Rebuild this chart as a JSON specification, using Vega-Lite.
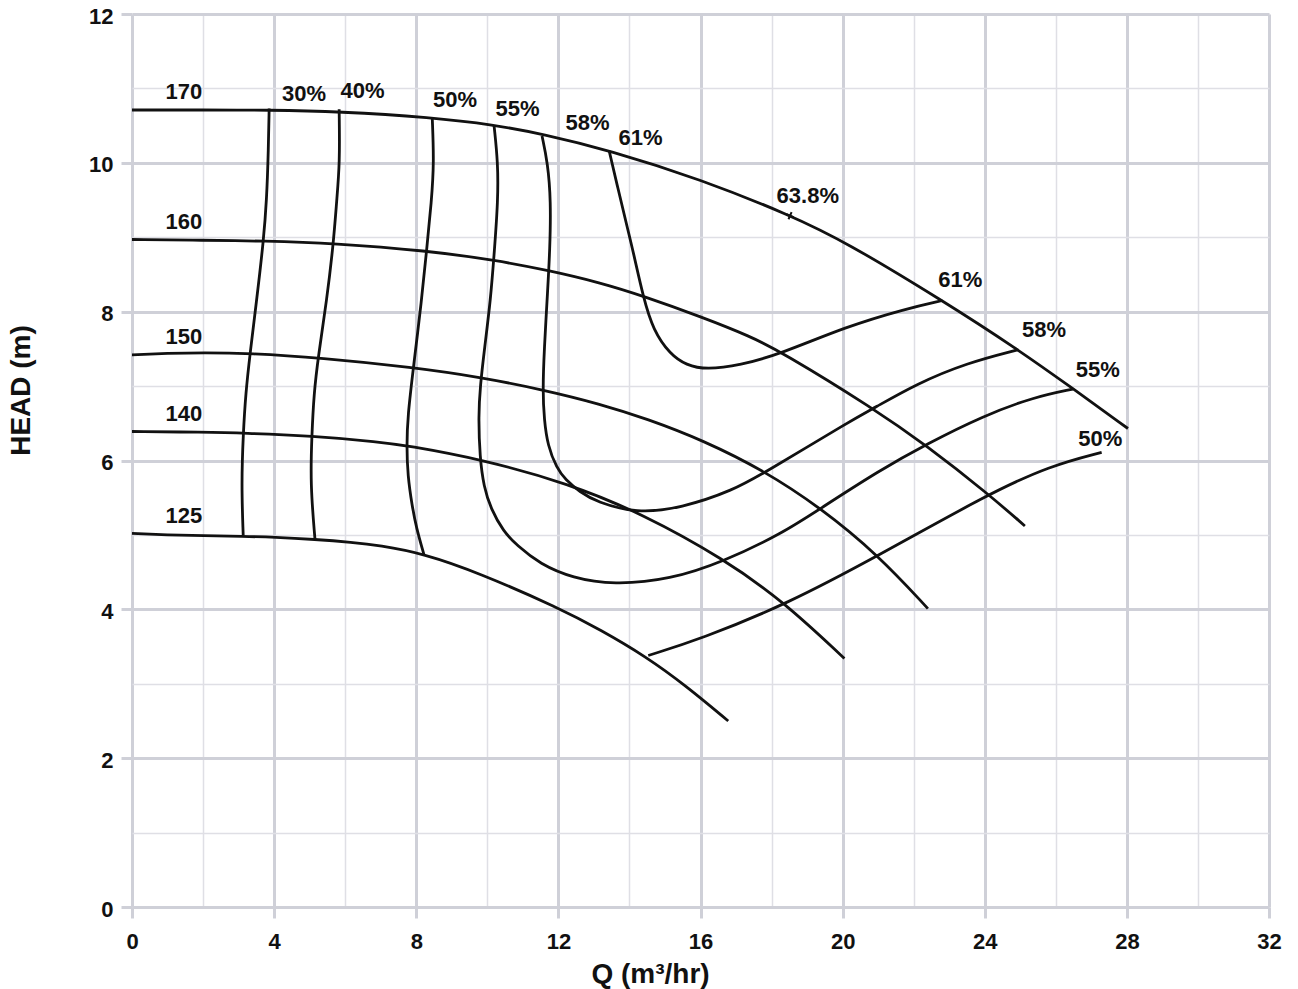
{
  "$schema": "https://vega.github.io/schema/vega-lite/v6.json",
  "width": 1137,
  "height": 893,
  "autosize": "none",
  "padding": {"left": 132, "top": 14, "right": 29, "bottom": 82},
  "background": "white",
  "config": {
    "view": {"stroke": null},
    "axis": {
      "labelFont": "Liberation Sans",
      "labelFontWeight": "bold",
      "labelFontSize": 22,
      "labelColor": "#111111",
      "titleFont": "Liberation Sans",
      "titleFontWeight": "bold",
      "titleFontSize": 28,
      "titleColor": "#111111",
      "labelFlush": false,
      "labelOverlap": false
    }
  },
  "datasets": {
    "curves": [
      {"c": "170", "i": 0, "q": 0, "h": 10.71}, {"c": "170", "i": 1, "q": 2, "h": 10.71}, {"c": "170", "i": 2, "q": 3.84, "h": 10.71}, {"c": "170", "i": 3, "q": 5.83, "h": 10.69}, {"c": "170", "i": 4, "q": 8.42, "h": 10.61}, {"c": "170", "i": 5, "q": 10.19, "h": 10.51}, {"c": "170", "i": 6, "q": 11.54, "h": 10.39}, {"c": "170", "i": 7, "q": 13.43, "h": 10.17}, {"c": "170", "i": 8, "q": 16.0, "h": 9.78}, {"c": "170", "i": 9, "q": 18.56, "h": 9.29}, {"c": "170", "i": 10, "q": 20.07, "h": 8.94}, {"c": "170", "i": 11, "q": 22.81, "h": 8.15}, {"c": "170", "i": 12, "q": 24.91, "h": 7.5}, {"c": "170", "i": 13, "q": 26.47, "h": 6.97}, {"c": "170", "i": 14, "q": 28.03, "h": 6.43},
      {"c": "160", "i": 0, "q": 0, "h": 8.97}, {"c": "160", "i": 1, "q": 2, "h": 8.96}, {"c": "160", "i": 2, "q": 3.7, "h": 8.95}, {"c": "160", "i": 3, "q": 5.67, "h": 8.92}, {"c": "160", "i": 4, "q": 8.29, "h": 8.82}, {"c": "160", "i": 5, "q": 10.26, "h": 8.69}, {"c": "160", "i": 6, "q": 11.76, "h": 8.55}, {"c": "160", "i": 7, "q": 13.17, "h": 8.39}, {"c": "160", "i": 8, "q": 14.39, "h": 8.21}, {"c": "160", "i": 9, "q": 16.08, "h": 7.92}, {"c": "160", "i": 10, "q": 17.39, "h": 7.67}, {"c": "160", "i": 11, "q": 18.24, "h": 7.47}, {"c": "160", "i": 12, "q": 20.87, "h": 6.7}, {"c": "160", "i": 13, "q": 22.36, "h": 6.2}, {"c": "160", "i": 14, "q": 24.1, "h": 5.55}, {"c": "160", "i": 15, "q": 25.13, "h": 5.12},
      {"c": "150", "i": 0, "q": 0, "h": 7.42}, {"c": "150", "i": 1, "q": 1, "h": 7.44}, {"c": "150", "i": 2, "q": 2, "h": 7.45}, {"c": "150", "i": 3, "q": 3.32, "h": 7.44}, {"c": "150", "i": 4, "q": 5.29, "h": 7.38}, {"c": "150", "i": 5, "q": 7.92, "h": 7.25}, {"c": "150", "i": 6, "q": 9.79, "h": 7.12}, {"c": "150", "i": 7, "q": 11.58, "h": 6.95}, {"c": "150", "i": 8, "q": 13.17, "h": 6.76}, {"c": "150", "i": 9, "q": 14.49, "h": 6.56}, {"c": "150", "i": 10, "q": 16.08, "h": 6.27}, {"c": "150", "i": 11, "q": 17.8, "h": 5.86}, {"c": "150", "i": 12, "q": 19.36, "h": 5.37}, {"c": "150", "i": 13, "q": 21.0, "h": 4.73}, {"c": "150", "i": 14, "q": 22.4, "h": 4.01},
      {"c": "140", "i": 0, "q": 0, "h": 6.39}, {"c": "140", "i": 1, "q": 2, "h": 6.38}, {"c": "140", "i": 2, "q": 3.13, "h": 6.37}, {"c": "140", "i": 3, "q": 5.06, "h": 6.33}, {"c": "140", "i": 4, "q": 6.98, "h": 6.25}, {"c": "140", "i": 5, "q": 7.73, "h": 6.2}, {"c": "140", "i": 6, "q": 9.8, "h": 6.02}, {"c": "140", "i": 7, "q": 12.3, "h": 5.69}, {"c": "140", "i": 8, "q": 14.38, "h": 5.28}, {"c": "140", "i": 9, "q": 16.65, "h": 4.68}, {"c": "140", "i": 10, "q": 18.35, "h": 4.1}, {"c": "140", "i": 11, "q": 20.05, "h": 3.34},
      {"c": "125", "i": 0, "q": 0, "h": 5.02}, {"c": "125", "i": 1, "q": 1, "h": 5.0}, {"c": "125", "i": 2, "q": 2, "h": 4.99}, {"c": "125", "i": 3, "q": 3.13, "h": 4.98}, {"c": "125", "i": 4, "q": 4, "h": 4.97}, {"c": "125", "i": 5, "q": 5.15, "h": 4.94}, {"c": "125", "i": 6, "q": 6.2, "h": 4.9}, {"c": "125", "i": 7, "q": 6.95, "h": 4.86}, {"c": "125", "i": 8, "q": 8.2, "h": 4.75}, {"c": "125", "i": 9, "q": 9.76, "h": 4.49}, {"c": "125", "i": 10, "q": 12.01, "h": 4.02}, {"c": "125", "i": 11, "q": 13.2, "h": 3.72}, {"c": "125", "i": 12, "q": 14.45, "h": 3.37}, {"c": "125", "i": 13, "q": 15.6, "h": 2.97}, {"c": "125", "i": 14, "q": 16.78, "h": 2.5},
      {"c": "e30", "i": 0, "q": 3.86, "h": 10.73}, {"c": "e30", "i": 1, "q": 3.84, "h": 10.2}, {"c": "e30", "i": 2, "q": 3.79, "h": 9.49}, {"c": "e30", "i": 3, "q": 3.7, "h": 8.95}, {"c": "e30", "i": 4, "q": 3.52, "h": 8.2}, {"c": "e30", "i": 5, "q": 3.32, "h": 7.43}, {"c": "e30", "i": 6, "q": 3.2, "h": 6.9}, {"c": "e30", "i": 7, "q": 3.13, "h": 6.36}, {"c": "e30", "i": 8, "q": 3.08, "h": 5.69}, {"c": "e30", "i": 9, "q": 3.13, "h": 4.99},
      {"c": "e40", "i": 0, "q": 5.83, "h": 10.72}, {"c": "e40", "i": 1, "q": 5.85, "h": 10.0}, {"c": "e40", "i": 2, "q": 5.76, "h": 9.49}, {"c": "e40", "i": 3, "q": 5.67, "h": 8.92}, {"c": "e40", "i": 4, "q": 5.48, "h": 8.15}, {"c": "e40", "i": 5, "q": 5.24, "h": 7.39}, {"c": "e40", "i": 6, "q": 5.12, "h": 6.9}, {"c": "e40", "i": 7, "q": 5.06, "h": 6.33}, {"c": "e40", "i": 8, "q": 5.02, "h": 5.69}, {"c": "e40", "i": 9, "q": 5.15, "h": 4.94},
      {"c": "e50a", "i": 0, "q": 8.45, "h": 10.61}, {"c": "e50a", "i": 1, "q": 8.5, "h": 10.0}, {"c": "e50a", "i": 2, "q": 8.43, "h": 9.49}, {"c": "e50a", "i": 3, "q": 8.29, "h": 8.82}, {"c": "e50a", "i": 4, "q": 8.15, "h": 8.15}, {"c": "e50a", "i": 5, "q": 7.92, "h": 7.25}, {"c": "e50a", "i": 6, "q": 7.76, "h": 6.6}, {"c": "e50a", "i": 7, "q": 7.73, "h": 6.19}, {"c": "e50a", "i": 8, "q": 7.76, "h": 5.8}, {"c": "e50a", "i": 9, "q": 7.88, "h": 5.4}, {"c": "e50a", "i": 10, "q": 8.0, "h": 5.1}, {"c": "e50a", "i": 11, "q": 8.22, "h": 4.73},
      {"c": "e50b", "i": 0, "q": 14.53, "h": 3.38}, {"c": "e50b", "i": 1, "q": 16.0, "h": 3.6}, {"c": "e50b", "i": 2, "q": 18.43, "h": 4.07}, {"c": "e50b", "i": 3, "q": 21.0, "h": 4.72}, {"c": "e50b", "i": 4, "q": 24.1, "h": 5.55}, {"c": "e50b", "i": 5, "q": 25.84, "h": 5.93}, {"c": "e50b", "i": 6, "q": 27.29, "h": 6.11},
      {"c": "e55", "i": 0, "q": 10.19, "h": 10.5}, {"c": "e55", "i": 1, "q": 10.3, "h": 10.0}, {"c": "e55", "i": 2, "q": 10.3, "h": 9.49}, {"c": "e55", "i": 3, "q": 10.2, "h": 8.82}, {"c": "e55", "i": 4, "q": 10.09, "h": 8.15}, {"c": "e55", "i": 5, "q": 9.92, "h": 7.5}, {"c": "e55", "i": 6, "q": 9.8, "h": 7.0}, {"c": "e55", "i": 7, "q": 9.75, "h": 6.6}, {"c": "e55", "i": 8, "q": 9.79, "h": 6.04}, {"c": "e55", "i": 9, "q": 9.9, "h": 5.65}, {"c": "e55", "i": 10, "q": 10.1, "h": 5.35}, {"c": "e55", "i": 11, "q": 10.45, "h": 5.05}, {"c": "e55", "i": 12, "q": 10.83, "h": 4.86}, {"c": "e55", "i": 13, "q": 11.48, "h": 4.61}, {"c": "e55", "i": 14, "q": 12.4, "h": 4.42}, {"c": "e55", "i": 15, "q": 13.55, "h": 4.33}, {"c": "e55", "i": 16, "q": 15.15, "h": 4.4}, {"c": "e55", "i": 17, "q": 16.64, "h": 4.64}, {"c": "e55", "i": 18, "q": 18.3, "h": 5.02}, {"c": "e55", "i": 19, "q": 19.36, "h": 5.35}, {"c": "e55", "i": 20, "q": 21.05, "h": 5.87}, {"c": "e55", "i": 21, "q": 22.36, "h": 6.22}, {"c": "e55", "i": 22, "q": 23.96, "h": 6.6}, {"c": "e55", "i": 23, "q": 25.37, "h": 6.85}, {"c": "e55", "i": 24, "q": 26.48, "h": 6.96},
      {"c": "e58", "i": 0, "q": 11.54, "h": 10.36}, {"c": "e58", "i": 1, "q": 11.7, "h": 10.0}, {"c": "e58", "i": 2, "q": 11.79, "h": 9.49}, {"c": "e58", "i": 3, "q": 11.76, "h": 8.82}, {"c": "e58", "i": 4, "q": 11.7, "h": 8.3}, {"c": "e58", "i": 5, "q": 11.6, "h": 7.48}, {"c": "e58", "i": 6, "q": 11.56, "h": 6.94}, {"c": "e58", "i": 7, "q": 11.6, "h": 6.55}, {"c": "e58", "i": 8, "q": 11.7, "h": 6.2}, {"c": "e58", "i": 9, "q": 11.95, "h": 5.9}, {"c": "e58", "i": 10, "q": 12.2, "h": 5.74}, {"c": "e58", "i": 11, "q": 12.6, "h": 5.58}, {"c": "e58", "i": 12, "q": 13.08, "h": 5.44}, {"c": "e58", "i": 13, "q": 14.2, "h": 5.29}, {"c": "e58", "i": 14, "q": 15.45, "h": 5.36}, {"c": "e58", "i": 15, "q": 16.93, "h": 5.6}, {"c": "e58", "i": 16, "q": 17.85, "h": 5.85}, {"c": "e58", "i": 17, "q": 20.25, "h": 6.54}, {"c": "e58", "i": 18, "q": 20.87, "h": 6.7}, {"c": "e58", "i": 19, "q": 22.08, "h": 7.03}, {"c": "e58", "i": 20, "q": 23.49, "h": 7.31}, {"c": "e58", "i": 21, "q": 24.95, "h": 7.49},
      {"c": "e61", "i": 0, "q": 13.43, "h": 10.16}, {"c": "e61", "i": 1, "q": 13.68, "h": 9.65}, {"c": "e61", "i": 2, "q": 13.91, "h": 9.19}, {"c": "e61", "i": 3, "q": 14.11, "h": 8.8}, {"c": "e61", "i": 4, "q": 14.39, "h": 8.19}, {"c": "e61", "i": 5, "q": 14.67, "h": 7.75}, {"c": "e61", "i": 6, "q": 15.14, "h": 7.43}, {"c": "e61", "i": 7, "q": 15.6, "h": 7.28}, {"c": "e61", "i": 8, "q": 16.17, "h": 7.22}, {"c": "e61", "i": 9, "q": 17.11, "h": 7.28}, {"c": "e61", "i": 10, "q": 18.24, "h": 7.43}, {"c": "e61", "i": 11, "q": 20.1, "h": 7.8}, {"c": "e61", "i": 12, "q": 21.79, "h": 8.04}, {"c": "e61", "i": 13, "q": 22.81, "h": 8.15}
    ],
    "labels": [
      {"t": "170", "q": 1.46, "h": 10.95}, {"t": "160", "q": 1.46, "h": 9.21}, {"t": "150", "q": 1.46, "h": 7.66}, {"t": "140", "q": 1.46, "h": 6.63}, {"t": "125", "q": 1.46, "h": 5.26},
      {"t": "30%", "q": 4.84, "h": 10.92}, {"t": "40%", "q": 6.49, "h": 10.97}, {"t": "50%", "q": 9.09, "h": 10.85}, {"t": "55%", "q": 10.85, "h": 10.73}, {"t": "58%", "q": 12.82, "h": 10.54}, {"t": "61%", "q": 14.31, "h": 10.34},
      {"t": "63.8%", "q": 19.02, "h": 9.55}, {"t": "61%", "q": 23.31, "h": 8.42}, {"t": "58%", "q": 25.67, "h": 7.75}, {"t": "55%", "q": 27.18, "h": 7.21}, {"t": "50%", "q": 27.25, "h": 6.29}
    ],
    "marker": [{"q": 18.52, "h": 9.29}]
  },
  "layer": [
    {
      "data": {"name": "curves"},
      "mark": {"type": "line", "interpolate": "basis", "stroke": "#111111", "strokeWidth": 2.8},
      "encoding": {
        "x": {
          "field": "q", "type": "quantitative",
          "scale": {"domain": [0, 32], "nice": false, "zero": false},
          "axis": {
            "values": [0, 2, 4, 6, 8, 10, 12, 14, 16, 18, 20, 22, 24, 26, 28, 30, 32],
            "format": "d",
            "labelExpr": "datum.value % 4 === 0 ? datum.label : ''",
            "grid": true,
            "gridColor": {"condition": {"test": "datum.value % 4 === 0", "value": "#cfd0d8"}, "value": "#dfdfe5"},
            "gridWidth": {"condition": {"test": "datum.value % 4 === 0", "value": 3}, "value": 1.5},
            "tickSize": {"condition": {"test": "datum.value % 4 === 0", "value": 11}, "value": 0},
            "tickColor": "#cfd0d8",
            "tickWidth": 3,
            "domain": false,
            "labelPadding": 13,
            "title": "Q (m³/hr)",
            "titleX": 518,
            "titleY": 75,
            "titleAlign": "center",
            "titleBaseline": "alphabetic"
          }
        },
        "y": {
          "field": "h", "type": "quantitative",
          "scale": {"domain": [0, 12], "nice": false, "zero": false},
          "axis": {
            "values": [0, 1, 2, 3, 4, 5, 6, 7, 8, 9, 10, 11, 12],
            "format": "d",
            "labelExpr": "datum.value % 2 === 0 ? datum.label : ''",
            "grid": true,
            "gridColor": {"condition": {"test": "datum.value % 2 === 0", "value": "#cfd0d8"}, "value": "#dfdfe5"},
            "gridWidth": {"condition": {"test": "datum.value % 2 === 0", "value": 3}, "value": 1.5},
            "tickSize": {"condition": {"test": "datum.value % 2 === 0", "value": 11}, "value": 0},
            "tickColor": "#cfd0d8",
            "tickWidth": 3,
            "domain": false,
            "labelPadding": 8,
            "labelOffset": 2,
            "title": "HEAD (m)",
            "titleX": -103,
            "titleY": 376,
            "titleAngle": 270,
            "titleAlign": "center",
            "titleBaseline": "alphabetic"
          }
        },
        "detail": {"field": "c", "type": "nominal"},
        "order": {"field": "i", "type": "quantitative"}
      }
    },
    {
      "data": {"name": "labels"},
      "mark": {"type": "text", "font": "Liberation Sans", "fontWeight": "bold", "fontSize": 22, "fill": "#111111", "align": "center", "baseline": "middle"},
      "encoding": {
        "x": {"field": "q", "type": "quantitative"},
        "y": {"field": "h", "type": "quantitative"},
        "text": {"field": "t", "type": "nominal"}
      }
    },
    {
      "data": {"name": "marker"},
      "mark": {"type": "point", "shape": "M -0.4 0.92 L 0.4 -0.92 M -0.92 -0.4 L 0.92 0.4", "size": 60, "stroke": "#111111", "strokeWidth": 2, "filled": false, "opacity": 1},
      "encoding": {
        "x": {"field": "q", "type": "quantitative"},
        "y": {"field": "h", "type": "quantitative"}
      }
    }
  ]
}
